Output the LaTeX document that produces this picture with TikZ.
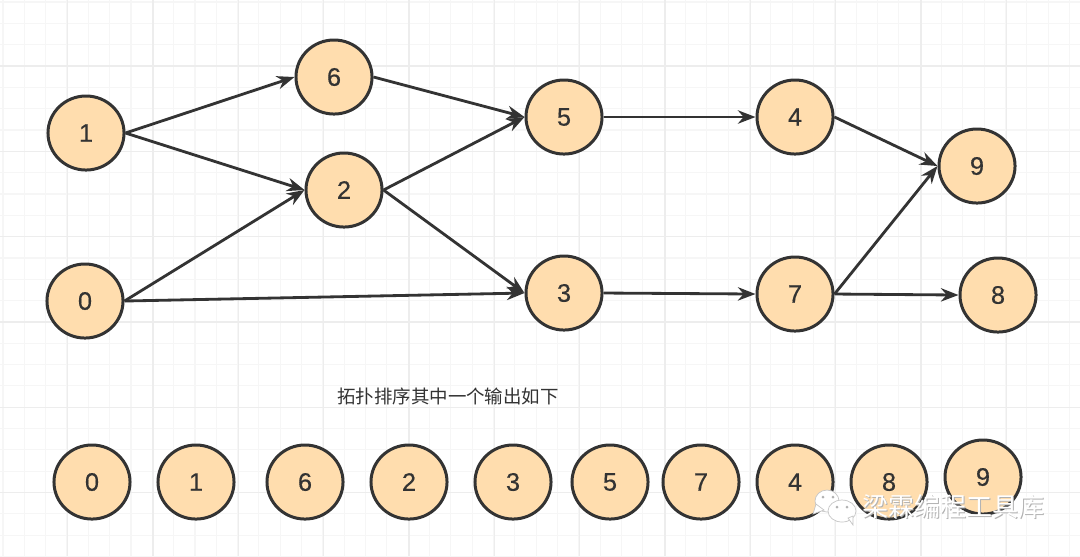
\documentclass[tikz,border=0pt]{standalone}
\usepackage{fontspec}
\setmainfont{Liberation Sans}
\newfontfamily\digitfont[FakeBold=0.5]{Liberation Sans}
\newfontfamily\cjk{Noto Sans CJK SC}
\usepackage{xcolor}
\usetikzlibrary{arrows.meta,shapes.geometric}
\definecolor{nodefill}{HTML}{FFDDAE}
\definecolor{inkdark}{HTML}{333333}
\definecolor{gridminor}{HTML}{F6F6F6}
\definecolor{gridmajor}{HTML}{EDEDED}
\tikzset{
    vertex/.style={ellipse,draw=inkdark,fill=nodefill,line width=0.85pt,minimum width=0.76cm,minimum height=0.74cm,inner sep=0pt,text=inkdark,font=\digitfont\fontsize{7.2}{8}\selectfont},
    edge/.style={draw=inkdark,line width=0.8pt,-{Stealth[length=5pt,width=3.8pt]}},
    minorline/.style={gridminor,line width=0.3pt},
    majorline/.style={gridmajor,line width=0.4pt},
    bubble/.style={fill=white,draw=gray!45,line width=0.2pt}
}

\begin{document}
\begin{tikzpicture}[x=0.01cm,y=-0.01cm]
    \useasboundingbox (0,0) rectangle (1080,556);
    \fill[white] (0,0) rectangle (1080,556);
    % background grid
    \foreach \i in {0,...,51} {
        \draw[minorline] ({3+21.33*\i},0) -- ({3+21.33*\i},556);
    }
    \foreach \i in {0,...,26} {
        \draw[minorline] (0,{2+21.33*\i}) -- (1080,{2+21.33*\i});
    }
    \foreach \i in {0,...,12} {
        \draw[majorline] ({67.7+85.33*\i},0) -- ({67.7+85.33*\i},556);
    }
    \foreach \i in {0,...,5} {
        \draw[majorline] (0,{66+85.33*\i}) -- (1080,{66+85.33*\i});
    }

    % graph
    \node[vertex] (n1) at (86,133) {1};
    \node[vertex] (n6) at (334,77) {6};
    \node[vertex] (n2) at (344,190) {2};
    \node[vertex] (n5) at (564,117) {5};
    \node[vertex] (n4) at (795,117) {4};
    \node[vertex] (n9) at (977,166) {9};
    \node[vertex] (n0) at (85,301) {0};
    \node[vertex] (n3) at (564,293) {3};
    \node[vertex] (n7) at (795,294) {7};
    \node[vertex] (n8) at (998,295) {8};

    \draw[edge] (n1.east) -- (n6.west);
    \draw[edge] (n1.east) -- (n2.west);
    \draw[edge] (n0.east) -- (n2.west);
    \draw[edge] (n0.east) -- (n3.west);
    \draw[edge] (n6.east) -- (n5.west);
    \draw[edge] (n2.east) -- (n5.west);
    \draw[edge] (n2.east) -- (n3.west);
    \draw[edge] (n5.east) -- (n4.west);
    \draw[edge] (n3.east) -- (n7.west);
    \draw[edge] (n4.east) -- (n9.west);
    \draw[edge] (n7.east) -- (n9.west);
    \draw[edge] (n7.east) -- (n8.west);

    \node[text=inkdark,font=\cjk\fontsize{5.25}{6}\selectfont] (caption) at (448,396) {拓扑排序其中一个输出如下};

    % output order
    \foreach \name/\xpos/\ypos in {0/92/482,1/196/482,6/305/482,2/409/482,3/513/482,5/610/482,7/701/482,4/795/482,8/889/482,9/983/477} {
        \node[vertex] (out\name) at (\xpos,\ypos) {\name};
    }

    % watermark
    \path[bubble] (827,501) ellipse (12 and 11);
    \path[bubble] (816,504) -- (813,514) -- (824,510) -- cycle;
    \fill[gray!60] (823,497) circle (1.5) (833,497) circle (1.5);
    \path[bubble] (842,511) ellipse (14 and 11);
    \path[bubble] (848,518) -- (853,525) -- (853,516) -- cycle;
    \fill[gray!60] (837,507) circle (1.5) (847,507) circle (1.5);
    \node[text=gray!60,font=\cjk\fontsize{7.4}{8}\selectfont] (markshadow) at (954.5,508) {梁霖编程工具库};
    \node[text=white,font=\cjk\fontsize{7.4}{8}\selectfont] (mark) at (953.5,507) {梁霖编程工具库};
\end{tikzpicture}
\end{document}
